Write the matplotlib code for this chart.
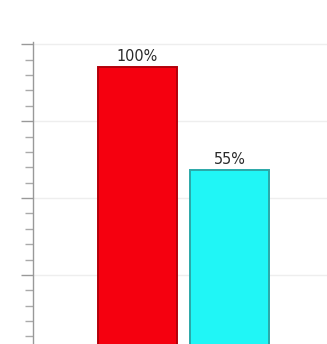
import matplotlib

matplotlib.use("Agg")
import matplotlib.pyplot as plt
from matplotlib.ticker import FixedLocator, AutoMinorLocator, NullFormatter

# bar values (percent) and their styling
VALUES = [100, 55]
LABELS = ["100%", "55%"]
FACE_COLORS = ["#f5000f", "#20f6f6"]
EDGE_COLORS = ["#b3000a", "#2aa8a8"]

# y-axis major gridline positions
Y_TICKS = [9.2, 42.8, 76.4, 110.0]
Y_MIN, Y_MAX = -30, 111


def main():
    plt.rcParams["font.family"] = ["DejaVu Sans"]
    fig = plt.figure(figsize=(3.27, 3.44), dpi=100)
    ax = fig.add_axes([0.101, -0.060, 0.899, 0.938])

    xs = list(range(len(VALUES)))
    heights = [v - Y_MIN for v in VALUES]
    ax.bar(xs, heights, bottom=Y_MIN, width=0.854, color=FACE_COLORS,
           edgecolor=EDGE_COLORS, linewidth=1.4, zorder=3)
    for x, v, lab in zip(xs, VALUES, LABELS):
        ax.annotate(lab, xy=(x, v), xytext=(0, 2.5), textcoords="offset points",
                    ha="center", va="bottom", fontsize=11.5, fontstretch="condensed",
                    color="#2a2a2a", zorder=4)

    ax.set_xlim(-1.13, 2.05)
    ax.set_ylim(Y_MIN, Y_MAX)
    ax.set_xticks([])
    ax.yaxis.set_major_locator(FixedLocator(Y_TICKS))
    ax.yaxis.set_minor_locator(AutoMinorLocator(5))
    ax.yaxis.set_major_formatter(NullFormatter())
    ax.tick_params(axis="y", which="major", length=9, width=1.0, color="#999999")
    ax.tick_params(axis="y", which="minor", length=6, width=1.0, color="#aaaaaa")
    ax.grid(axis="y", which="major", color="#eeeeee", linewidth=1.0, zorder=0)

    for side in ("top", "right", "bottom"):
        ax.spines[side].set_visible(False)
    ax.spines["left"].set_color("#999999")
    ax.spines["left"].set_linewidth(1.0)

    fig.savefig("out.png", dpi=100, facecolor="white")
    plt.close(fig)


if __name__ == "__main__":
    main()
